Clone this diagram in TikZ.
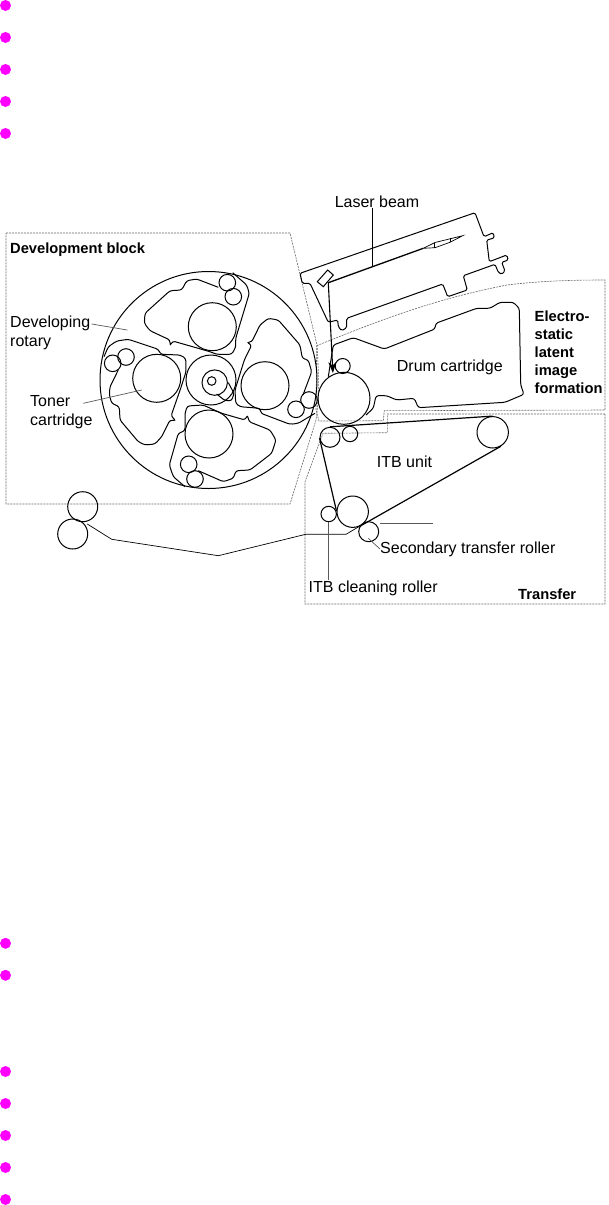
\documentclass[tikz,border=0pt]{standalone}
\usepackage{fontspec}
\setmainfont{Liberation Sans}
\usetikzlibrary{arrows.meta,positioning,calc}
\definecolor{dotmagenta}{RGB}{255,0,255}
\begin{document}
\begin{tikzpicture}[
        x=1pt, y=-1pt,
        roller/.style={draw, circle, inner sep=0pt, line width=1pt},
        outline/.style={draw, line width=1pt, rounded corners=2.5pt},
        zone/.style={draw, gray!80!black, line width=0.6pt, dash pattern=on 2pt off 1pt},
        leader/.style={draw, gray!70!black, line width=0.7pt},
        belt/.style={draw, line width=1.2pt},
        lbl/.style={align=left, anchor=west, inner sep=0pt, font=\fontsize{16}{18.6}\selectfont},
        blbl/.style={lbl, font=\fontsize{14.7}{18}\selectfont\bfseries},
        dot/.style={circle, fill=dotmagenta, inner sep=0pt, minimum size=11pt}
    ]
        \useasboundingbox (0,0) rectangle (608,1205);
        \foreach \y [count=\i] in {5.5,37.5,69.5,101.5,133.5,943.3,975.3,1071.5,1103.5,1135.5,1167.5,1199.5}
            \node[dot] (dot\i) at (5.5,\y) {};

        \draw[zone] (6,233) -- (290,233) -- (317,345) .. controls (319,375) and (319,400) .. (316,420) -- (290,504) -- (6,504) -- cycle;
        \draw[zone] (316.7,345.7) .. controls (373,323) and (430,300) .. (507,285) .. controls (540,281) and (570,280) .. (605,280) -- (605,410) -- (384.3,410.7) -- (383.3,420.7) -- (319,421) -- (316,410) -- cycle;
        \draw[zone] (605,414) -- (387.3,414) -- (387.3,432.7) -- (323,433.3) -- (305,481.7) -- (305,604) -- (605,604) -- cycle;

        \node[roller, minimum size=217pt] (rotary) at (208.5,380) {};
        \node[roller, minimum size=50pt] (hub) at (211,380) {};
        \node[roller, minimum size=25.4pt] (hubring) at (214.7,382.6) {};
        \node[roller, minimum size=8.6pt] (hubcore) at (211.7,381) {};

        \node[roller, minimum size=48pt] (tonerT) at (212.3,326.7) {};
        \node[roller, minimum size=16.6pt] (rollTa) at (227.3,282.7) {};
        \node[roller, minimum size=16.6pt] (rollTb) at (233.3,296.7) {};
        \node[roller, minimum size=48pt] (tonerL) at (156.7,378.3) {};
        \node[roller, minimum size=16.6pt] (rollLa) at (112.7,363.3) {};
        \node[roller, minimum size=16.6pt] (rollLb) at (126,357) {};
        \node[roller, minimum size=48pt] (tonerB) at (209,434) {};
        \node[roller, minimum size=16.6pt] (rollBa) at (188.7,464.3) {};
        \node[roller, minimum size=16.6pt] (rollBb) at (195,479) {};
        \node[roller, minimum size=48pt] (tonerR) at (265,385.7) {};
        \node[roller, minimum size=16.6pt] (rollRa) at (296,409.3) {};
        \node[roller, minimum size=16.6pt] (rollRb) at (309,400) {};

        \draw[outline] (218.3,287.3) -- (196.7,279) -- (186.7,280.7) -- (181.7,290) -- (170,290.7) -- (145,313.3) -- (144.3,323.3) -- (150,330.7) -- (170,340) -- (170,346) -- (172.7,341) -- (210,351.7) -- (216.7,354.3) -- (231.7,354.3) -- (235.7,347.3) -- (235.7,338.3) -- (249.3,293.3) -- (246.7,285) -- (232.7,272.7);
        \draw[outline] (104,356.7) -- (108.3,346.7) -- (116.7,341) -- (128.3,339.3) -- (158.3,349.3) -- (160.7,354.3) -- (180,355) -- (185.7,358.3) -- (186,371.7) -- (180.7,388.3) -- (171,416) -- (176,420.7) -- (170,420) -- (161.7,436.7) -- (155,444) -- (145,445) -- (138.3,441.7) -- (120,420) -- (119.3,406.7) -- (111.7,403.3) -- (109.3,395) -- (110,386.7) -- (118.3,370);
        \draw[outline] (185,486.7) -- (173.3,476.7) -- (169.3,465) -- (178.3,433.3) -- (185,430.7) -- (185,413.3) -- (187.3,406) -- (203,405) -- (221.7,413.3) -- (245,420) -- (247.5,415) -- (249,421.7) -- (270,430) -- (276,440) -- (271.7,453.3) -- (250,470) -- (236,470.7) -- (233.3,478.3) -- (223.3,481.7) -- (198.3,470.7);
        \draw[outline] (303,395) -- (311.7,371.7) -- (308.3,360) -- (302.3,358.3) -- (300,345) -- (278.3,320) -- (268.3,318.3) -- (260,325) -- (251.7,342) -- (246.7,342.3) -- (251.7,345) -- (244.3,360) -- (235,390) -- (235.7,403.3) -- (240,406.7) -- (260,408.3) -- (261,413.3) -- (290,424.3) -- (298.3,423.3) -- (315,413.3);
        \draw[outline] (216.7,394) -- (225,400.7) -- (231.7,400.7) -- (234,393.3) -- (228.3,382.7);

        \draw[outline, rounded corners=1.5pt] (300,273.3) -- (475,212.7) -- (484,236.7) -- (493.3,232.7) -- (494.3,238) -- (486.7,240) -- (489.3,261.7) -- (506.7,255) -- (508.3,260) -- (501.7,262.3) -- (505,271) -- (501.7,274.3) -- (498.3,272.3) -- (495,264.3) -- (463.3,275.7) -- (467.3,290) -- (447.7,296.7) -- (442.7,284) -- (346.7,318.3) -- (346.7,327.7) -- (341.7,330.7) -- (338.3,326.7) -- (337.7,320) -- (328.3,322.3) -- (310,283.3) -- (302.3,283.3) -- cycle;
        \draw[line width=1pt] (317.3,281.7) -- (327.7,270) -- (333.3,275) -- (323.3,286.7) -- cycle;
        \coordinate (mirror) at (328.3,282.7);
        \coordinate (lensA) at (423.3,248.3);
        \draw[line width=0.7pt] (lensA) -- (435,242.5) -- (462.7,235.7) -- (450,242.3) -- (435,247.7) -- cycle;
        \draw[line width=1.2pt] (434.3,242.8) -- (434.3,247.5);
        \draw[line width=1.2pt] (450.7,238) -- (450.7,242.2);
        \draw[line width=1.3pt] (mirror) -- (lensA);

        \node[roller, minimum size=52pt] (drum) at (344,398.3) {};
        \node[roller, minimum size=15pt] (charge) at (342.7,366) {};
        \draw[outline] (328.3,376.7) -- (333.3,345) -- (353.3,337.7) -- (384.3,349) -- (435,329) -- (435.7,323.3) -- (476.7,308.3) -- (490,308.3) -- (500,302.3) -- (513.3,302.3) -- (519.3,308.3) -- (520.7,385) -- (524,394.3) -- (505,402.3) -- (418.3,407.7) -- (414.3,398.3) -- (396.7,400) -- (386.7,395.7) -- (376,395.7) -- (373.3,408.3) -- (366,415);
        \coordinate (beamEnd) at (332.9,373);
        \draw[-{Stealth[length=11pt,width=8pt]}, line width=1.1pt] (mirror) -- (beamEnd);

        \node[roller, minimum size=20pt] (itbA) at (330,437.3) {};
        \node[roller, minimum size=15.4pt] (itbB) at (350,434) {};
        \node[roller, minimum size=31.4pt] (itbDrive) at (492.7,432.3) {};
        \node[roller, minimum size=31.4pt] (itbLow) at (352.7,511.7) {};
        \node[roller, minimum size=15.4pt] (itbClean) at (328.7,514) {};
        \node[roller, minimum size=20pt] (second) at (368.7,531.7) {};
        \draw[belt] (itbA.north) -- (itbDrive.north);
        \draw[belt] (itbA.185) -- (itbLow.178);
        \draw[belt] (itbDrive.-60) -- (itbLow.-60);

        \node[roller, minimum size=30pt] (feedA) at (82.7,506.7) {};
        \node[roller, minimum size=30pt] (feedB) at (72.7,534) {};
        \coordinate (pathA) at (87.3,524);
        \coordinate (pathB) at (360,526);
        \draw[line width=0.7pt] (pathA) -- (111.7,539.3) -- (218.3,555.7) -- (305.7,534.3) -- (346,534.3) -- (pathB);
        \coordinate (unnamedA) at (380,523.3);
        \coordinate (unnamedB) at (432.7,523.3);
        \draw[leader] (unnamedA) -- (unnamedB);

        \node[blbl] (devlbl) at (10,250) {Development block};
        \node[lbl] (rotarylbl) at (10,333) {Developing\\rotary};
        \node[lbl] (tonerlbl) at (30,412) {Toner\\cartridge};
        \node[lbl, anchor=center] (laserlbl) at (377,201.5) {Laser beam};
        \node[lbl] (drumlbl) at (396.7,367) {Drum cartridge};
        \node[blbl] (electrolbl) at (534.5,352) {Electro-\\static\\latent\\image\\formation};
        \node[lbl] (itblbl) at (376.7,461.6) {ITB unit};
        \node[lbl] (secondlbl) at (380,549) {Secondary transfer roller};
        \node[lbl] (cleanlbl) at (308.5,588) {ITB cleaning roller};
        \node[blbl] (transferlbl) at (518,594.5) {Transfer};

        \coordinate (rotaryEnd) at (127.3,330);
        \coordinate (tonerEnd) at (141.7,390);
        \coordinate (laserEnd) at (372,266.7);
        \coordinate (secondEnd) at (368.3,538.3);
        \draw[leader] (91.7,324) -- (rotaryEnd);
        \draw[leader] (83.3,403.3) -- (tonerEnd);
        \draw[line width=0.8pt] (laserlbl.south -| laserEnd) -- (laserEnd);
        \draw[leader] (secondlbl.west) -- (secondEnd);
        \draw[leader] (itbClean.south) -- (itbClean.south |- cleanlbl.north);
    \end{tikzpicture}
\end{document}
